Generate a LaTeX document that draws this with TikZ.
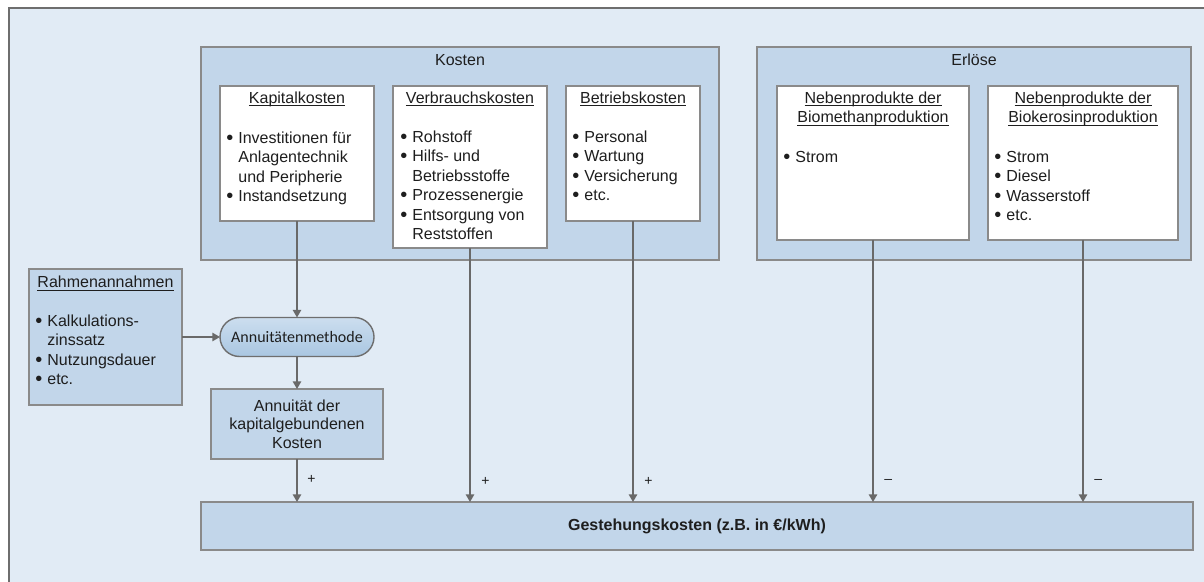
\documentclass[tikz,border=0pt]{standalone}
\usepackage{fontspec}
\setmainfont{Liberation Sans}
\newfontfamily\calibri{Carlito}
\usetikzlibrary{arrows.meta}
\definecolor{framebg}{HTML}{E1EBF5}
\definecolor{boxbg}{HTML}{C2D6EA}
\definecolor{edgegray}{HTML}{8A8A8A}
\definecolor{framegray}{HTML}{6E6E6E}
\definecolor{arrowgray}{HTML}{696969}
\definecolor{txt}{HTML}{1E1E1E}
\definecolor{pilltop}{HTML}{CCDEEF}
\definecolor{pillbot}{HTML}{A9C6E1}
% underline at a fixed depth, through descenders
\newcommand{\uln}[1]{\setbox0\hbox{#1}\rlap{\rule[-1.4pt]{\wd0}{0.5pt}}\box0}
% list bullet in a fixed-width column
\newcommand{\bul}{\makebox[6pt][l]{\raisebox{-0.5pt}{\scalebox{1.25}{\textbullet}}}}
\begin{document}
\begin{tikzpicture}[x=0.5pt,y=-0.5pt,
  panel/.style={draw=edgegray, line width=0.8pt, fill=boxbg, inner sep=0pt,
    outer sep=0pt, anchor=north west},
  whitebox/.style={panel, fill=white},
  lst/.style={anchor=base west, inner sep=0pt, text=txt,
    font=\fontsize{8}{9.75}\selectfont},
  ttl/.style={anchor=base, inner sep=0pt, text=txt,
    font=\fontsize{8}{9.75}\selectfont},
  flow/.style={draw=arrowgray, line width=0.65pt,
    -{Triangle[width=4.2pt,length=3.8pt]}},
  sign/.style={anchor=west, inner sep=0pt, text=txt,
    font=\fontsize{7}{8}\selectfont}]

\useasboundingbox (0,0) rectangle (1204,582);
\fill[white] (0,0) rectangle (1204,582);
\begin{scope}
  \clip (0,0) rectangle (1204,582);
  \fill[framebg] (9,8) rectangle (1220,600);
  \draw[framegray, line width=0.6pt] (9,600) -- (9,8) -- (1220,8);
\end{scope}

% cost and revenue panels
\node[panel, minimum width=259pt, minimum height=106.5pt] (kosten) at (201,47) {};
\node[panel, minimum width=217pt, minimum height=106.5pt] (erloese) at (757,47) {};
\node[ttl] (kostenT) at (460,65.5) {Kosten};
\node[ttl] (erloeseT) at (974,65.5) {Erlöse};

% cost categories
\node[whitebox, minimum width=77pt, minimum height=67.5pt] (kap) at (220,86) {};
\node[whitebox, minimum width=77pt, minimum height=81pt] (verb) at (393,86) {};
\node[whitebox, minimum width=67pt, minimum height=67.5pt] (betr) at (566,86) {};
\node[ttl] (kapT) at (kap.center |- 0,103.5) {\uln{Kapitalkosten}};
\node[ttl] (verbT) at (verb.center |- 0,103.5) {\uln{Verbrauchskosten}};
\node[ttl] (betrT) at (betr.center |- 0,103.5) {\uln{Betriebskosten}};
\node[lst] (kapL) at (226,143.5) {\begin{tabular}[t]{@{}l@{}l@{}}
  \bul&Investitionen für\\&Anlagentechnik\\&und Peripherie\\\bul&Instandsetzung\end{tabular}};
\node[lst] (verbL) at (400,142.5) {\begin{tabular}[t]{@{}l@{}l@{}}
  \bul&Rohstoff\\\bul&Hilfs- und\\&Betriebsstoffe\\\bul&Prozessenergie\\
  \bul&Entsorgung von\\&Reststoffen\end{tabular}};
\node[lst] (betrL) at (572,142.5) {\begin{tabular}[t]{@{}l@{}l@{}}
  \bul&Personal\\\bul&Wartung\\\bul&Versicherung\\\bul&etc.\end{tabular}};

% by-products
\node[whitebox, minimum width=96pt, minimum height=77pt] (bm) at (777,86) {};
\node[whitebox, minimum width=95pt, minimum height=77pt] (bk) at (988,86) {};
\node[ttl] (bmT) at (bm.center |- 0,103.5) {\begin{tabular}[t]{@{}c@{}}
  \uln{Nebenprodukte der}\\\uln{Biomethanproduktion}\end{tabular}};
\node[ttl] (bkT) at (bk.center |- 0,103.5) {\begin{tabular}[t]{@{}c@{}}
  \uln{Nebenprodukte der}\\\uln{Biokerosinproduktion}\end{tabular}};
\node[lst] (bmL) at (783,162.5) {\begin{tabular}[t]{@{}l@{}l@{}}
  \bul&Strom\end{tabular}};
\node[lst] (bkL) at (994,162.5) {\begin{tabular}[t]{@{}l@{}l@{}}
  \bul&Strom\\\bul&Diesel\\\bul&Wasserstoff\\\bul&etc.\end{tabular}};

% framework assumptions
\node[panel, minimum width=76.5pt, minimum height=68pt] (rahmen) at (29,269) {};
\node[ttl] (rahmenT) at (rahmen.center |- 0,288) {\uln{Rahmenannahmen}};
\node[lst] (rahmenL) at (35,326.5) {\begin{tabular}[t]{@{}l@{}l@{}}
  \bul&Kalkulations-\\&zinssatz\\\bul&Nutzungsdauer\\\bul&etc.\end{tabular}};

% annuity method and result
\node[draw=framegray, line width=0.7pt, rounded corners=9.75pt, top color=pilltop,
  bottom color=pillbot, minimum width=77pt, minimum height=19.5pt, inner sep=0pt,
  outer sep=0pt, text=txt, font=\calibri\fontsize{8}{9.75}\selectfont]
  (annm) at (297,337) {Annuitätenmethode};
\node[panel, minimum width=86pt, minimum height=35pt] (annu) at (211,389) {};
\node[ttl] (annuT) at (annu.center |- 0,411.5) {\fontsize{8}{9.25}\selectfont
  \begin{tabular}[t]{@{}c@{}}Annuität der\\kapitalgebundenen\\Kosten\end{tabular}};

% levelised cost
\node[panel, minimum width=496pt, minimum height=24pt, text=txt,
  font=\bfseries\fontsize{8}{9.75}\selectfont] (gest) at (201,502)
  {Gestehungskosten (z.B. in €/kWh)};

% connectors
\draw[flow] (kap.south) -- (annm.north);
\draw[flow] (rahmen.east) -- (annm.west);
\draw[flow] (annm.south) -- (annu.north);
\draw[flow] (annu.south) -- (annu.south |- gest.north);
\draw[flow] (verb.south) -- (verb.south |- gest.north);
\draw[flow] (betr.south) -- (betr.south |- gest.north);
\draw[flow] (bm.south) -- (bm.south |- gest.north);
\draw[flow] (bk.south) -- (bk.south |- gest.north);

% signs of the contributions
\coordinate (signrow) at (0,481);
\node[sign, xshift=5pt] (sA) at (annu.south |- 0,479) {+};
\node[sign, xshift=5.5pt] (sB) at (verb.south |- signrow) {+};
\node[sign, xshift=5.5pt] (sC) at (betr.south |- signrow) {+};
\node[sign, xshift=5.5pt] (sD) at (bm.south |- signrow) {–};
\node[sign, xshift=5.5pt] (sE) at (bk.south |- signrow) {–};
\end{tikzpicture}
\end{document}
